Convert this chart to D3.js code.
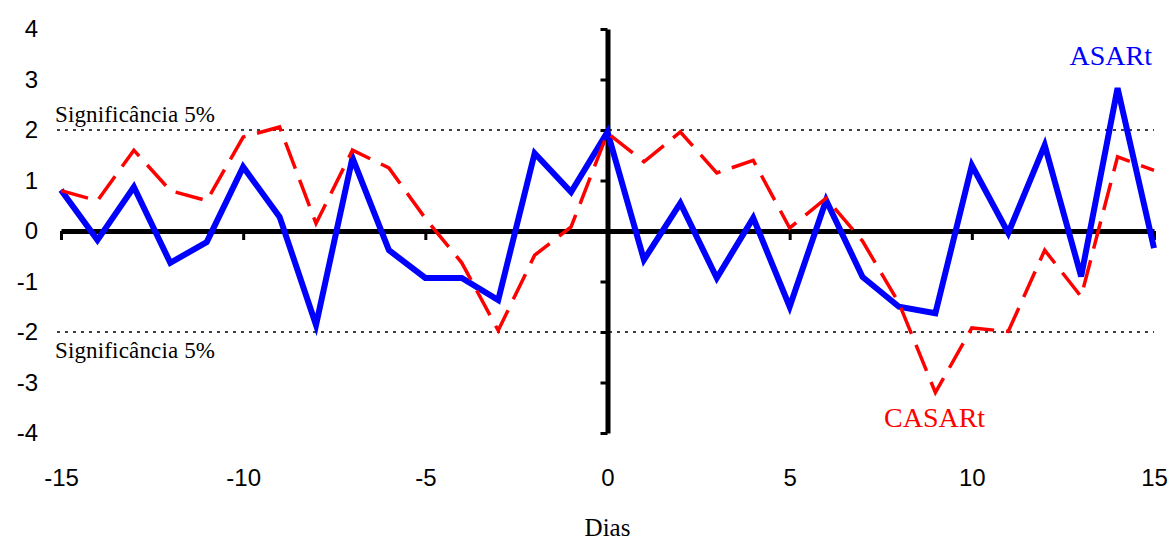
<!DOCTYPE html>
<html>
<head>
<meta charset="utf-8">
<script src="https://cdn.jsdelivr.net/npm/d3@7"></script>
<style>
  body { margin: 0; background: #fff; }
  svg { display: block; }
</style>
</head>
<body>
<div id="chart"></div>
<script>
// Days around the event
const dias = [-15, -14, -13, -12, -11, -10, -9, -8, -7, -6, -5, -4, -3, -2, -1, 0,
              1, 2, 3, 4, 5, 6, 7, 8, 9, 10, 11, 12, 13, 14, 15];
const asart = [0.81, -0.18, 0.87, -0.63, -0.22, 1.27, 0.28, -1.86, 1.45, -0.38, -0.93, -0.93, -1.37, 1.54, 0.77, 1.96,
               -0.57, 0.55, -0.93, 0.26, -1.5, 0.61, -0.91, -1.5, -1.63, 1.3, -0.04, 1.7, -0.9, 2.83, -0.34];
const casart = [0.8, 0.6, 1.6, 0.8, 0.6, 1.86, 2.06, 0.15, 1.6, 1.25, 0.25, -0.63, -1.97, -0.48, 0.08, 1.94,
                1.37, 1.96, 1.15, 1.4, 0.06, 0.65, -0.2, -1.43, -3.2, -1.92, -1.99, -0.38, -1.3, 1.47, 1.2];
const xTicks = [-15, -10, -5, 0, 5, 10, 15];
const yTicks = [-4, -3, -2, -1, 0, 1, 2, 3, 4];
const significancia = [2, -2];

const svgWidth = 1173;
const svgHeight = 541;

const svg = d3.select("#chart").append("svg")
    .attr("width", svgWidth)
    .attr("height", svgHeight);

const x = d3.scaleLinear().domain([-15, 15]).range([61, 1154]);
const y = d3.scaleLinear().domain([-4, 4]).range([433, 29]);

const sans = "'Liberation Sans', Arial, sans-serif";
const serif = "'Liberation Serif', 'Times New Roman', serif";
const plain = d => String(d); // hyphen minus like the original

// Significance lines
svg.selectAll(".sig")
    .data(significancia)
    .enter()
    .append("line")
    .attr("class", "sig")
    .attr("x1", 57)
    .attr("x2", x(15))
    .attr("y1", d => y(d))
    .attr("y2", d => y(d))
    .attr("stroke", "#000")
    .attr("stroke-width", 1.5)
    .attr("stroke-dasharray", "3,5");

svg.append("text")
    .attr("x", 55)
    .attr("y", y(2) - 8)
    .attr("font-family", serif)
    .attr("font-size", 23)
    .attr("textLength", 160)
    .text("Significância 5%");

svg.append("text")
    .attr("x", 55)
    .attr("y", y(-2) + 26)
    .attr("font-family", serif)
    .attr("font-size", 23)
    .attr("textLength", 160)
    .text("Significância 5%");

// Horizontal axis through zero
const xAxis = svg.append("g")
    .attr("transform", `translate(0, ${y(0)})`)
    .call(d3.axisBottom(x).tickValues(xTicks.filter(d => d !== 0)).tickSize(9).tickSizeOuter(0).tickFormat(""));
xAxis.select(".domain").attr("stroke-width", 5);
xAxis.selectAll(".tick line").attr("stroke-width", 3);

// Vertical axis through zero
const yAxis = svg.append("g")
    .attr("transform", `translate(${x(0)}, 0)`)
    .call(d3.axisLeft(y).tickValues(yTicks).tickSize(7).tickSizeOuter(0).tickFormat(""));
yAxis.select(".domain").attr("stroke-width", 5);
yAxis.selectAll(".tick line").attr("stroke-width", 3);

// Tick labels
const xLabels = svg.append("g")
    .attr("transform", "translate(0, 469)")
    .call(d3.axisBottom(x).tickValues(xTicks).tickSize(0).tickPadding(0).tickFormat(plain));
xLabels.select(".domain").remove();
xLabels.selectAll("text")
    .attr("font-family", sans)
    .attr("font-size", 24)
    .attr("fill", "#000");

const yLabels = svg.append("g")
    .attr("transform", "translate(38, 0)")
    .call(d3.axisLeft(y).tickValues(yTicks).tickSize(0).tickPadding(0).tickFormat(plain));
yLabels.select(".domain").remove();
yLabels.selectAll("text")
    .attr("font-family", sans)
    .attr("font-size", 24)
    .attr("fill", "#000");

svg.append("text")
    .attr("x", x(0))
    .attr("y", 536)
    .attr("text-anchor", "middle")
    .attr("font-family", serif)
    .attr("font-size", 25)
    .text("Dias");

// Series lines
const line = d3.line()
    .x((d, i) => x(dias[i]))
    .y(d => y(d));

svg.append("path")
    .datum(asart)
    .attr("fill", "none")
    .attr("stroke", "#0000ff")
    .attr("stroke-width", 6)
    .attr("stroke-linejoin", "miter")
    .attr("d", line);

svg.append("path")
    .datum(casart)
    .attr("fill", "none")
    .attr("stroke", "#ff0000")
    .attr("stroke-width", 3.5)
    .attr("stroke-dasharray", "28,12")
    .attr("d", line);

// Series labels
svg.append("text")
    .attr("x", 1152)
    .attr("y", 65)
    .attr("text-anchor", "end")
    .attr("font-family", serif)
    .attr("font-size", 28)
    .attr("fill", "#0000ff")
    .text("ASARt");

svg.append("text")
    .attr("x", 884)
    .attr("y", 427)
    .attr("font-family", serif)
    .attr("font-size", 28)
    .attr("fill", "#ff0000")
    .text("CASARt");
</script>
</body>
</html>
